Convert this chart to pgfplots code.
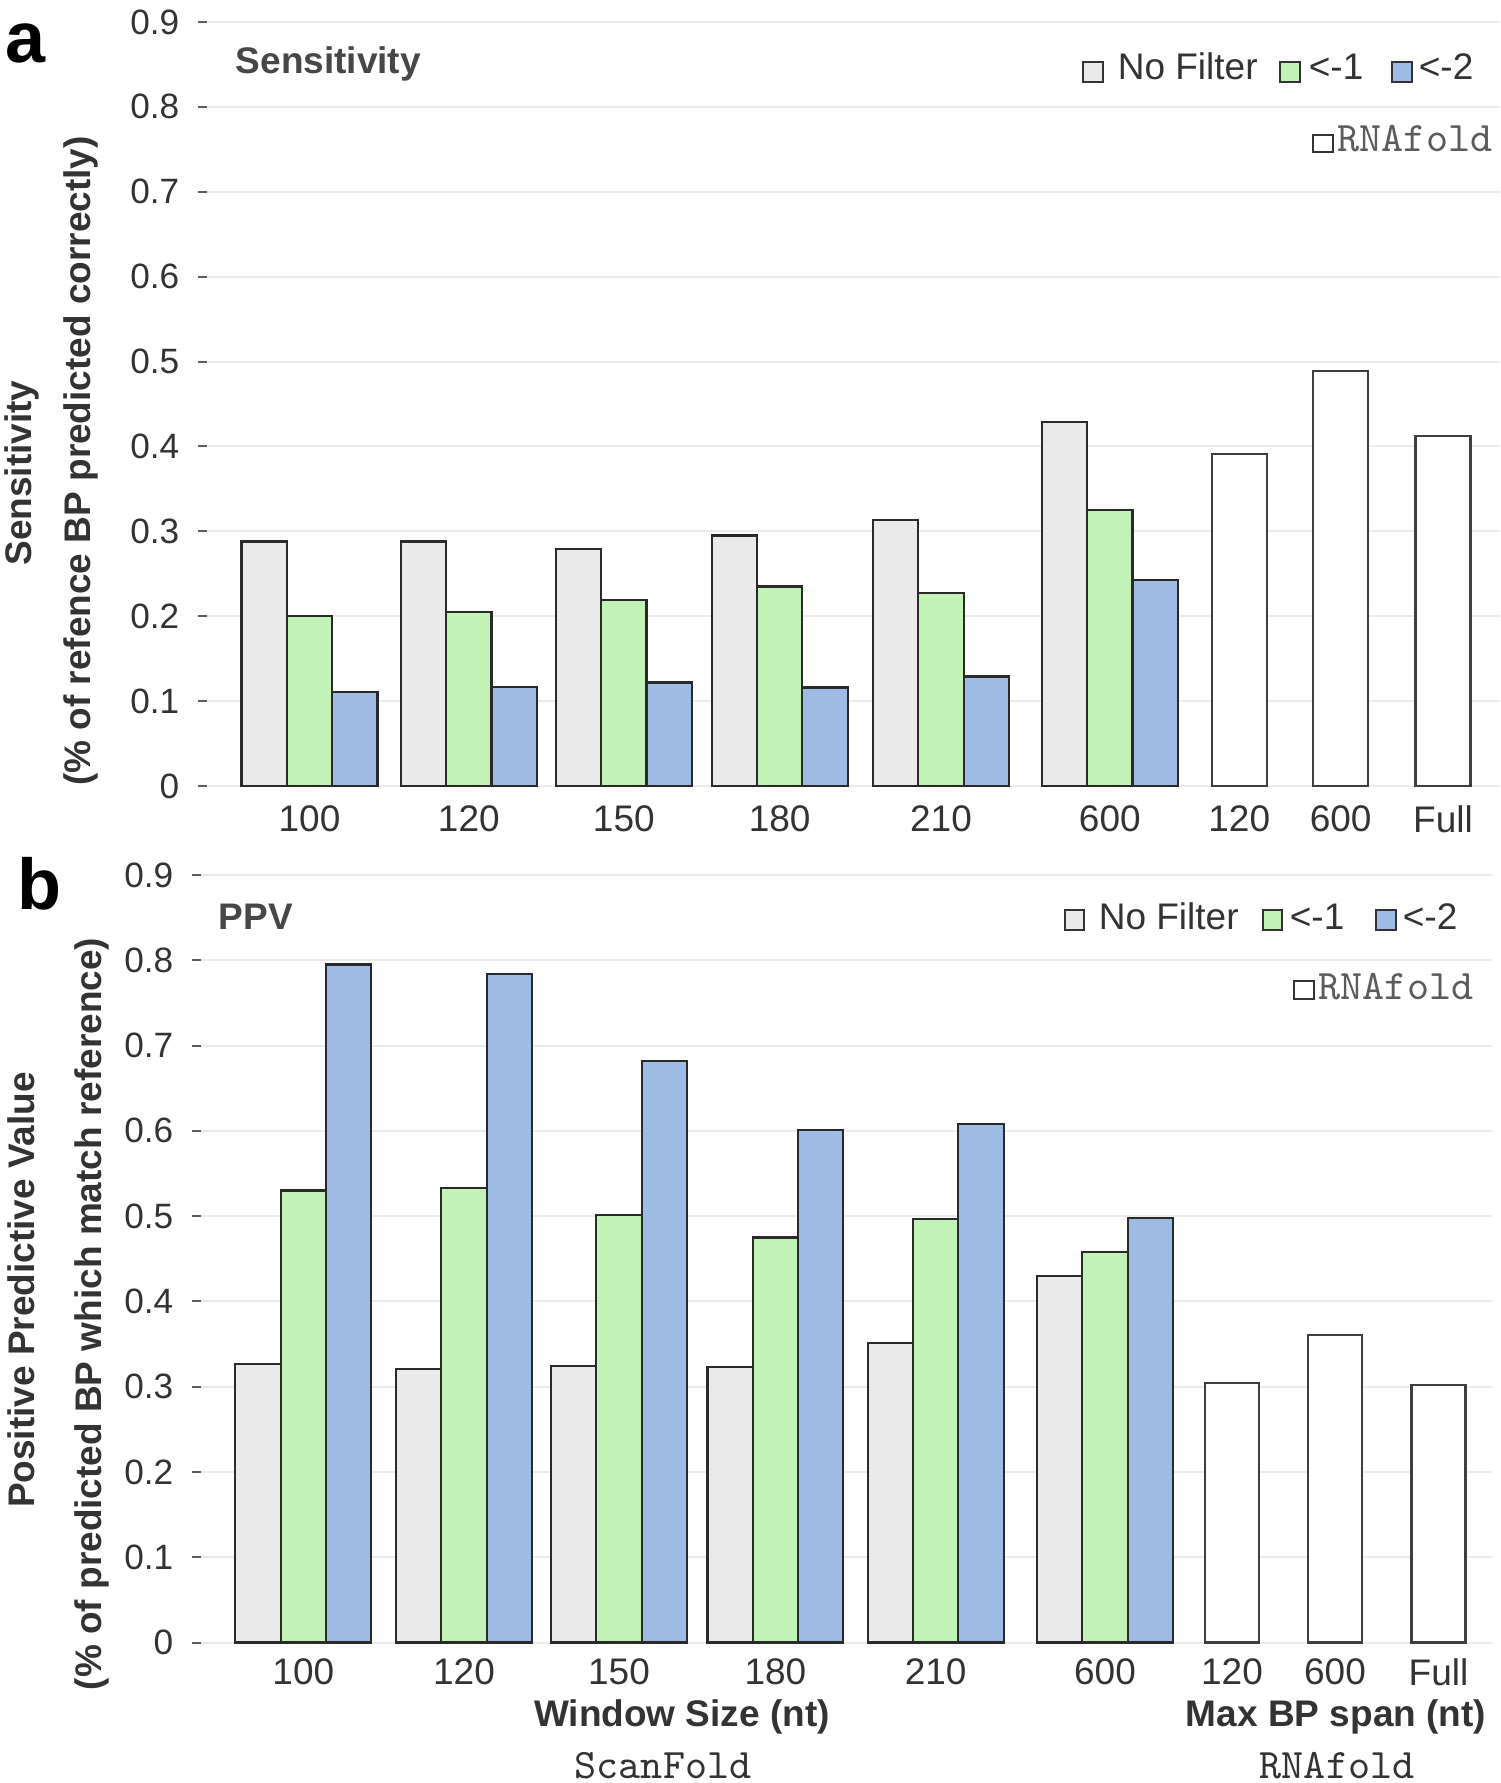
\documentclass[border=0pt]{standalone}
\usepackage{fontspec}
\setmainfont{Liberation Sans}
\usepackage{pgfplots}
\usepackage{pgfplotstable}
\pgfplotsset{compat=1.18}
\definecolor{nf}{HTML}{EAEAEA}
\definecolor{gn}{HTML}{C3F2B8}
\definecolor{bl}{HTML}{9EBCE3}
\definecolor{txt}{HTML}{333333}
\definecolor{grd}{HTML}{EBEBEB}
\definecolor{edge}{HTML}{2A2A2A}

% panel a: x = bar centre (pixel position), y = value
\pgfplotstableread{
x y
264.2 0.288
423.5 0.288
578.5 0.279
734.4 0.295
895.7 0.313
1064.5 0.429
}\aNF
\pgfplotstableread{
x y
309.5 0.200
468.8 0.205
623.8 0.219
779.7 0.235
941.0 0.227
1109.8 0.325
}\aOne
\pgfplotstableread{
x y
354.8 0.111
514.1 0.117
669.1 0.122
825.0 0.116
986.3 0.129
1155.1 0.243
}\aTwo
\pgfplotstableread{
x y
1239.2 0.391
1340.6 0.489
1443.0 0.412
}\aRNA
% panel b
\pgfplotstableread{
x y
258.0 0.327
418.7 0.321
573.7 0.324
730.1 0.323
890.4 0.351
1059.7 0.430
}\bNF
\pgfplotstableread{
x y
303.3 0.530
464.0 0.533
619.0 0.501
775.4 0.475
935.7 0.497
1105.0 0.458
}\bOne
\pgfplotstableread{
x y
348.6 0.795
509.3 0.784
664.3 0.682
820.7 0.601
981.0 0.608
1150.3 0.498
}\bTwo
\pgfplotstableread{
x y
1232.0 0.304
1335.0 0.361
1438.5 0.302
}\bRNA

\pgfplotsset{
  panel/.style={
    scale only axis,
    anchor=south west,
    ymin=0, ymax=0.9,
    ytick={0,0.1,...,0.9},
    yticklabel style={font=\fontsize{8.8}{9.5}\selectfont, text=txt, /pgf/number format/assume math mode=true, /pgf/number format/fixed, inner sep=0pt, xshift=-4.5pt},
    xticklabel style={font=\fontsize{9.25}{10}\selectfont, text=txt, inner sep=0pt, anchor=north},
    axis line style={draw=none},
    ymajorgrids,
    grid style={draw=grd, line width=0.5pt},
    tick align=outside,
    major tick length=2.25pt,
    ytick style={draw=txt!80, line width=0.5pt},
    xtick style={draw=none},
    tick pos=left,
    clip=false,
    axis background/.style={fill=white},
  },
  bar/.style={ybar, bar shift=0pt, bar width=#1, draw=edge, line width=0.55pt},
}
% pixel (from top-left of the 1500x1783 picture) to pt
\def\S{0.25pt}

\begin{document}
\begin{tikzpicture}
\useasboundingbox (0,0) rectangle (375pt,445.75pt);
% ---------------- panel a ----------------
\begin{axis}[panel,
  at={({207*\S},{(1783-786)*\S})},
  width=323.25pt, height=191pt,
  xmin=207, xmax=1500,
  xtick={309.5,468.8,623.8,779.7,941,1109.8,1239.2,1340.6,1443},
  xticklabels={100,120,150,180,210,600,120,600,Full},
  xticklabel style={yshift=-2.5pt},
]
\addplot[bar=45.3, fill=nf] table[x=x,y=y]{\aNF};
\addplot[bar=45.3, fill=gn] table[x=x,y=y]{\aOne};
\addplot[bar=45.3, fill=bl] table[x=x,y=y]{\aTwo};
\addplot[bar=55, fill=white, draw=edge!90] table[x=x,y=y]{\aRNA};
\end{axis}
% ---------------- panel b ----------------
\begin{axis}[panel,
  at={({201*\S},{(1783-1642.6)*\S})},
  width=322.75pt, height=191.9pt,
  xmin=201, xmax=1492,
  xtick={303.3,464,619,775.4,935.7,1105,1232,1335,1438.5},
  xticklabels={100,120,150,180,210,600,120,600,Full},
  xticklabel style={yshift=-1.5pt},
]
\addplot[bar=45.3, fill=nf] table[x=x,y=y]{\bNF};
\addplot[bar=45.3, fill=gn] table[x=x,y=y]{\bOne};
\addplot[bar=45.3, fill=bl] table[x=x,y=y]{\bTwo};
\addplot[bar=54, fill=white, draw=edge!90] table[x=x,y=y]{\bRNA};
\end{axis}

% panel letters
\node[anchor=base west, inner sep=0pt, font=\fontsize{18}{20}\selectfont\bfseries] at ({5*\S},{(1783-63)*\S}) {a};
\node[anchor=base west, inner sep=0pt, font=\fontsize{18}{20}\selectfont\bfseries] at ({17*\S},{(1783-910)*\S}) {b};
% titles
\node[anchor=west, inner sep=0pt, text=txt!90, font=\fontsize{9.25}{10}\selectfont\bfseries] at ({235*\S},{(1783-64)*\S}) {Sensitivity};
\node[anchor=west, inner sep=0pt, text=txt!90, font=\fontsize{9.25}{10}\selectfont\bfseries] at ({218*\S},{(1783-917)*\S}) {PPV};
% y labels
\node[rotate=90, inner sep=0pt, text=txt, font=\fontsize{9.25}{10}\selectfont\bfseries] at ({21.5*\S},{(1783-473)*\S}) {Sensitivity};
\node[rotate=90, inner sep=0pt, text=txt, font=\fontsize{9.25}{10}\selectfont\bfseries] at ({81*\S},{(1783-461)*\S}) {(\% of refence BP predicted correctly)};
\node[rotate=90, inner sep=0pt, text=txt, font=\fontsize{9.25}{10}\selectfont\bfseries] at ({21.5*\S},{(1783-1290)*\S}) {Positive Predictive Value};
\node[rotate=90, inner sep=0pt, text=txt, font=\fontsize{9.25}{10}\selectfont\bfseries] at ({92*\S},{(1783-1314)*\S}) {(\% of predicted BP which match reference)};
% x labels
\node[inner sep=0pt, text=txt, font=\fontsize{9.25}{10}\selectfont\bfseries] at ({682*\S},{(1783-1717)*\S}) {Window Size (nt)};
\node[inner sep=0pt, text=txt, font=\fontsize{9.25}{10}\selectfont\bfseries] at ({1336*\S},{(1783-1717)*\S}) {Max BP span (nt)};
\node[inner sep=0pt, text=txt, font=\fontsize{10.5}{11}\selectfont\ttfamily] at ({663*\S},{(1783-1766)*\S}) {ScanFold};
\node[inner sep=0pt, text=txt, font=\fontsize{10.5}{11}\selectfont\ttfamily] at ({1337*\S},{(1783-1766)*\S}) {RNAfold};

\begin{scope}[font=\fontsize{9.25}{10}\selectfont, text=txt]
% legend (panel a)
\node[draw=txt, fill=nf, line width=0.5pt, minimum size=4.8pt, inner sep=0pt] at ({1093*\S},{(1783-72)*\S}) {};
\node[anchor=base west, inner sep=0pt] at ({1117*\S},{(1783-80)*\S}) {No Filter};
\node[draw=txt, fill=gn, line width=0.5pt, minimum size=4.8pt, inner sep=0pt] at ({1290*\S},{(1783-72)*\S}) {};
\node[anchor=base west, inner sep=0pt] at ({1308*\S},{(1783-80)*\S}) {<-1};
\node[draw=txt, fill=bl, line width=0.5pt, minimum size=4.8pt, inner sep=0pt] at ({1402*\S},{(1783-72)*\S}) {};
\node[anchor=base west, inner sep=0pt] at ({1418*\S},{(1783-80)*\S}) {<-2};
\node[draw=txt, fill=white, line width=0.5pt, minimum width=4.8pt, minimum height=4.3pt, inner sep=0pt] at ({1323*\S},{(1783-143.5)*\S}) {};
\node[anchor=base west, inner sep=0pt, font=\fontsize{10.5}{11}\selectfont\ttfamily, text=txt!80] at ({1337*\S},{(1783-152)*\S}) {RNAfold};
% legend (panel b)
\node[draw=txt, fill=nf, line width=0.5pt, minimum size=4.8pt, inner sep=0pt] at ({1074.5*\S},{(1783-920)*\S}) {};
\node[anchor=base west, inner sep=0pt] at ({1098*\S},{(1783-930)*\S}) {No Filter};
\node[draw=txt, fill=gn, line width=0.5pt, minimum size=4.8pt, inner sep=0pt] at ({1272.5*\S},{(1783-920)*\S}) {};
\node[anchor=base west, inner sep=0pt] at ({1289*\S},{(1783-930)*\S}) {<-1};
\node[draw=txt, fill=bl, line width=0.5pt, minimum size=4.8pt, inner sep=0pt] at ({1386*\S},{(1783-920)*\S}) {};
\node[anchor=base west, inner sep=0pt] at ({1402*\S},{(1783-930)*\S}) {<-2};
\node[draw=txt, fill=white, line width=0.5pt, minimum width=4.8pt, minimum height=4.3pt, inner sep=0pt] at ({1304*\S},{(1783-990)*\S}) {};
\node[anchor=base west, inner sep=0pt, font=\fontsize{10.5}{11}\selectfont\ttfamily, text=txt!80] at ({1318*\S},{(1783-1000)*\S}) {RNAfold};
\end{scope}
\end{tikzpicture}
\end{document}
